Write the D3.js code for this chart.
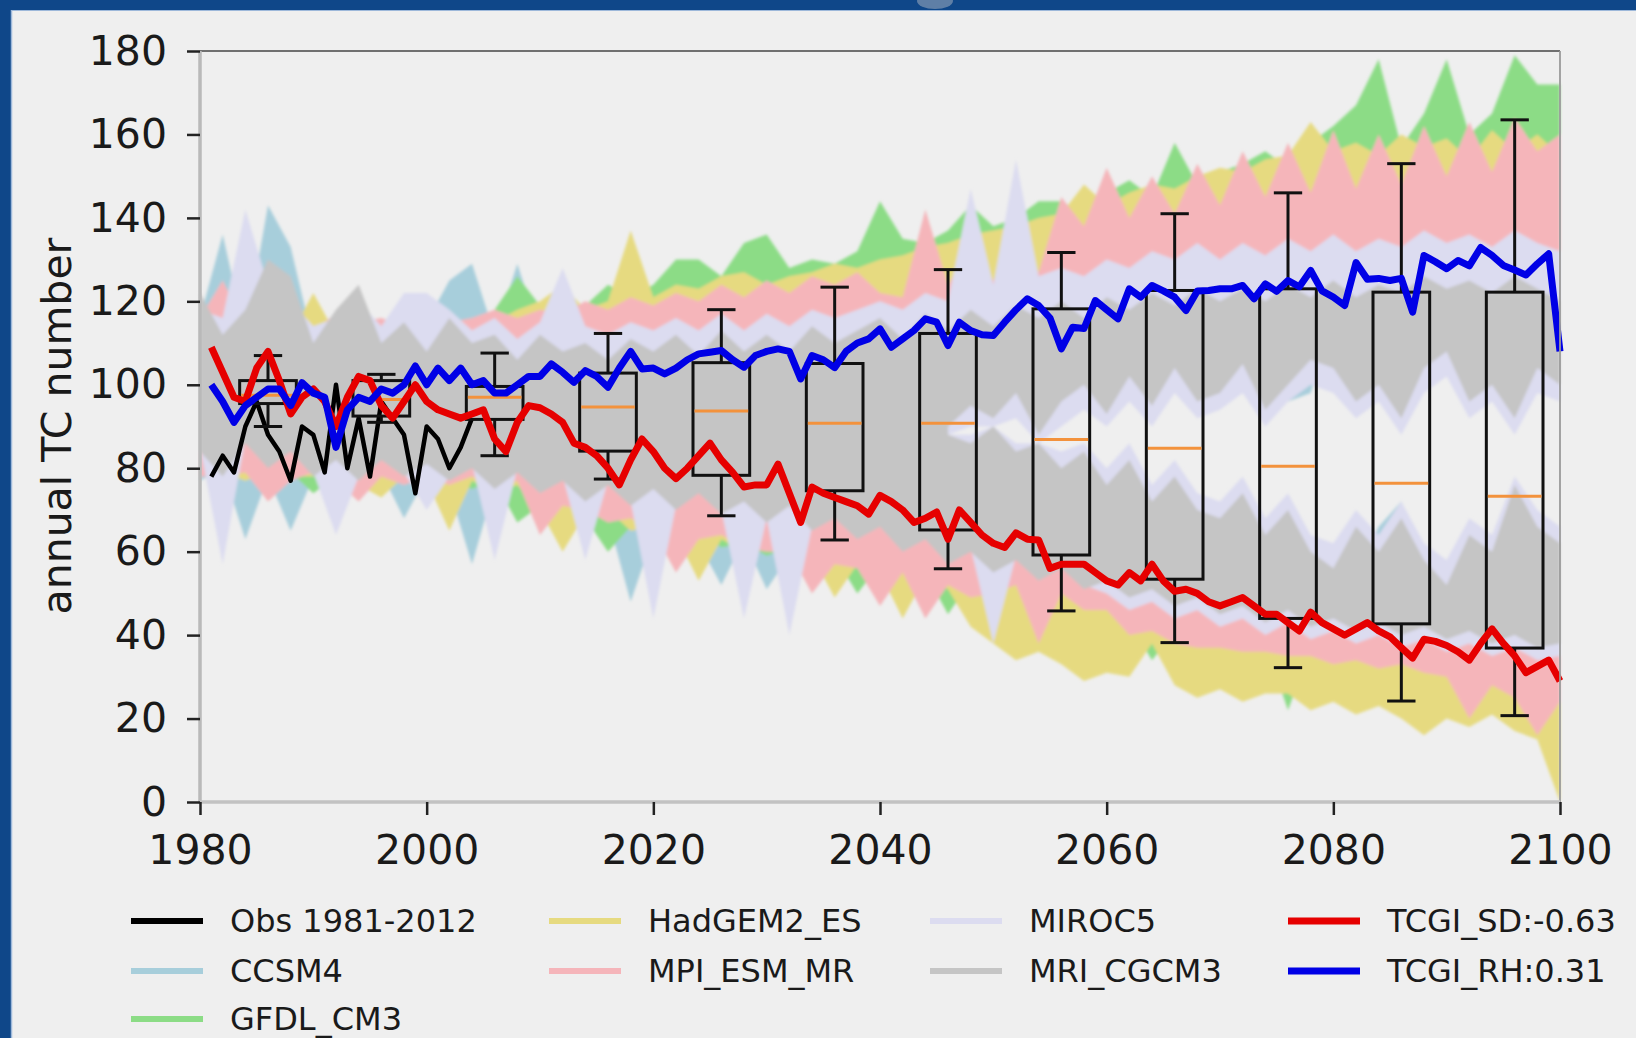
<!DOCTYPE html>
<html>
<head>
<meta charset="utf-8">
<script src="https://cdn.jsdelivr.net/npm/d3@7"></script>
<style>
  html, body { margin: 0; padding: 0; background: #efefef; }
  svg { display: block; }
  text { font-family: "DejaVu Sans", sans-serif; fill: #1a1a1a; }
</style>
</head>
<body>
<svg id="chart" width="1636" height="1038"></svg>
<script>
// ---- data ----
// model bands sampled every 2 years, 1980..2100
const bandYears = d3.range(1980, 2101, 2);
// split between RH band (above) and SD band (below), 2046..2100
const gapYears = d3.range(2046, 2101, 2);

const ccsm4Hi = [116,136,112,143,133,110,113,110,114,111, 115,125,129,112,129,112,114,112,114,113,
  115,114,116,115,117,116,118,117,119,118, 120,119,121,120,122,121,123,122,124,123,
  125,124,126,125,127,126,128,127,129,128, 130,129,131,130,132,131,133,132,134,133, 134];
const ccsm4Lo = [77,80,63,78,65,78,77,78,79,68, 78,75,57,76,74,73,69,71,68,48,
  64,66,62,52,63,51,59,60,56,58, 54,56,52,54,50,50,49,48,47,46,
  45,44,43,42,41,41,40,39,39,38, 37,37,36,36,35,35,34,34,33,33, 32];
const ccsm4GapTop = [106,110,108,110,106,110,110,108,112,110,114,110,112,114,110,96,98,116,112,114,112,116,116,114,114,112,116,112];
const ccsm4GapBottom = [70,72,70,70,68,68,66,64,64,76,62,60,58,60,54,58,52,50,54,66,72,50,46,52,50,56,52,50];

const gfdlHi = [112,110,113,111,114,116,112,114,113,115, 114,116,115,118,126,119,120,119,124,121,
  124,130,130,126,134,136,128,130,129,132, 144,135,134,137,143,138,140,144,144,141,
  146,149,145,158,148,151,153,156,152,158, 162,167,178,157,165,178,160,165,179,172, 172];
const gfdlLo = [79,77,78,77,79,74,78,79,77,78, 76,77,75,77,67,71,72,68,60,66,
  67,63,65,61,62,59,61,57,59,50, 57,53,55,45,53,49,48,47,46,45,
  44,43,34,41,40,40,39,38,22,37, 36,36,35,35,34,34,33,33,32,32, 31];

const hadgemHi = [110,112,111,113,112,122,112,113,112,113, 112,114,113,115,118,120,124,118,120,137,
  121,124,123,126,127,124,126,127,129,128, 130,131,133,134,136,137,138,140,141,148,
  143,146,148,147,150,152,151,154,155,163, 156,158,155,160,157,159,154,161,156,160, 155];
const hadgemLo = [78,79,77,79,78,78,79,76,73,78, 77,65,77,74,76,70,60,69,70,65,
  66,64,53,63,60,62,58,59,49,57, 55,44,54,51,42,38,34,36,33,29,
  31,30,38,28,25,27,24,26,26,22, 24,21,23,20,16,20,18,21,17,15, 0];

const mpiHi = [116,125,114,118,114,113,117,115,116,114, 117,115,116,118,116,118,117,120,118,121,
  119,122,120,124,121,125,122,126,124,127, 122,121,142,124,133,125,136,127,145,138,
  152,140,150,141,153,143,156,145,158,146, 161,147,160,148,162,150,163,151,164,156, 160];
const mpiLo = [78,78,79,72,77,79,77,72,78,76, 78,76,78,75,77,64,71,70,67,68,
  65,55,63,64,61,60,60,50,57,56, 47,55,44,52,49,50,52,38,50,46,
  46,40,41,38,37,37,36,36,35,35, 33,34,32,33,31,30,20,28,25,16, 24];

// GFDL, HadGEM2 and MPI split lies under the MRI layer
const sharedGapTop = [106,110,108,110,106,110,110,108,112,110,114,110,112,114,110,114,114,116,112,114,112,116,116,114,114,112,116,112];
const sharedGapBottom = [70,72,70,70,68,68,66,64,64,62,62,60,58,60,54,58,52,50,54,52,54,50,46,52,50,56,52,50];

const mirocHi = [118,116,142,124,120,114,116,120,114,122, 122,118,113,116,111,115,128,114,112,115,
  113,116,113,117,113,117,114,118,116,118, 120,118,122,120,147,124,154,126,128,126,
  130,128,132,130,134,130,134,131,135,132, 136,132,135,133,137,134,136,133,137,134, 132];
const mirocLo = [85,57,87,81,85,79,64,78,83,79, 70,78,81,58,80,75,78,58,77,72,
  44,71,75,70,44,68,40,66,69,64, 67,61,64,58,61,38,59,54,57,52,
  50,46,48,44,46,42,44,40,43,39, 41,38,40,37,39,36,38,35,37,34, 35];
const mirocGapTop = [88,90,88,92,86,90,94,90,96,90,98,92,94,98,90,96,100,98,92,96,88,98,102,92,96,88,98,96];
const mirocGapBottom = [88,88,90,86,86,84,86,80,86,76,82,74,72,78,68,74,64,62,70,64,72,62,58,68,64,78,70,66];

const mriHi = [122,112,118,130,126,110,118,124,110,115, 108,116,110,112,106,112,108,110,106,111,
  108,112,107,113,108,112,108,114,110,113, 116,111,117,113,118,114,119,116,120,116,
  121,118,122,119,123,120,123,120,124,121, 125,121,124,122,126,123,125,122,126,123, 120];
const mriLo = [84,78,86,80,84,78,82,77,82,78, 81,77,80,75,79,74,77,72,76,71,
  75,70,74,69,72,67,71,65,68,63, 66,60,63,57,60,55,58,53,56,51,
  53,49,51,47,49,45,47,43,46,42, 44,41,43,40,42,39,41,38,40,37, 38];
const mriGapTop = [90,95,92,98,88,96,100,93,102,95,104,96,98,105,94,100,106,104,96,100,92,104,108,96,100,92,104,100];
const mriGapBottom = [88,86,90,84,86,80,84,76,82,72,78,70,68,74,64,70,60,56,66,60,68,58,52,64,60,76,66,62];

// observed counts, 1981..2004
const obsStart = 1981;
const obsCounts = [78,83,79,90,96,88,84,77,90,88, 79,100,80,92,78,96,92,88,74,90, 87,80,85,92];

// multi-model TCGI estimates, 1981..2100
const tcgiStart = 1981;
const tcgiSD = [109,103,97,96,104,108,101,93,97,99, 96,90,97,102,101,95,92,96,100,96,
  94,93,92,93,94,87,84,91,95,94.5, 93,91,86,85,83,80,76,82,87,84,
  80,77.5,80,83,86,82,79,75.5,76,76, 81,74,67,75.5,74,73,72,71,69,73.5,
  72,70,67,68,69.5,63,70,67,64,62, 61,64.5,63,62.8,56,57,57,57,55,53,
  52,55,53,57,53,50.5,51,50,48,47, 48,49,47,45,45,43,41,45.5,43,41.5,
  40,41.5,43,41,39.6,37,34.5,39,38.5,37.5, 36,34,38,41.5,38,35,31,32.5,34,29];
const tcgiRH = [100,96,91,95,97,99,99,95,100.5,98, 97,85,94,97,96,99,98,100,104.5,100,
  104,101,104,100,101,98,98,100,102,102, 105,103,100.6,103.4,102,99.4,104,108,103.8,104,
  102.6,104,106,107.4,107.8,108.2,106,104.2,107,108, 108.6,108,101.4,107,106,104.1,108,110,111,113.4,
  109,111,113,115.8,115,109.4,115,113,112,111.8, 115,118,120.6,119,116,108.6,113.8,113.5,120.2,118,
  115.8,123,121,123.8,122.5,121,117.8,122.5,122.6,123, 123,123.8,120.6,124.2,122.4,125,123.5,127.4,122.5,121,
  119,129.3,125.3,125.5,125,125.5,117.4,131,129.5,127.8, 129.8,128.5,132.9,131,128.6,127.5,126.3,129,131.4,108];

// decadal box plots
const boxCenters = [1986,1996,2006,2016,2026,2036,2046,2056,2066,2076,2086,2096];
const boxWhiskerLo = [90,91,83,77.4,68.6,62.8,55.9,45.8,38.2,32.2,24.2,20.7];
const boxQ1 = [95.5,92.5,91.7,84.1,78.3,74.6,65.2,59.2,53.4,44,42.7,36.9];
const boxMedian = [97.5,96.5,97,94.7,93.7,90.8,90.8,86.9,84.8,80.5,76.4,73.3];
const boxQ3 = [101,101,99.6,102.8,105.3,105.1,112.3,118.2,122.6,123,122.2,122.2];
const boxWhiskerHi = [107,102.5,107.6,112.3,118,123.4,127.6,131.7,141,146,153,163.5];

const yTicks = [0,20,40,60,80,100,120,140,160,180];
const xTicks = [1980,2000,2020,2040,2060,2080,2100];

// ---- drawing ----
const W = 1636, H = 1038;
const x = d3.scaleLinear().domain([1980, 2100]).range([200, 1560]);
const y = d3.scaleLinear().domain([0, 180]).range([802, 51]);

const svg = d3.select("#chart");
const defs = svg.append("defs");
defs.append("filter").attr("id", "soft")
  .attr("filterUnits", "userSpaceOnUse")
  .attr("x", 0).attr("y", 0).attr("width", W).attr("height", H)
  .append("feGaussianBlur").attr("stdDeviation", 1.5);

svg.append("rect").attr("width", W).attr("height", H).attr("fill", "#efefef");

// blue frame top and left
svg.append("rect").attr("x", 0).attr("y", 0).attr("width", W).attr("height", 10).attr("fill", "#0f4789");
svg.append("rect").attr("x", 0).attr("y", 0).attr("width", 11).attr("height", H).attr("fill", "#0f4789");
svg.append("line").attr("x1", 11.5).attr("x2", 11.5).attr("y1", 10).attr("y2", H)
  .attr("stroke", "#9db8da").attr("stroke-width", 1.5);
svg.append("line").attr("x1", 11).attr("x2", W).attr("y1", 10.5).attr("y2", 10.5)
  .attr("stroke", "#9db8da").attr("stroke-width", 1);
svg.append("ellipse").attr("cx", 935).attr("cy", 1).attr("rx", 18).attr("ry", 8).attr("fill", "#5f7fa6");

const models = [
  { name: "CCSM4", color: "#a7cedb", hi: ccsm4Hi, lo: ccsm4Lo, gapTop: ccsm4GapTop, gapBottom: ccsm4GapBottom },
  { name: "GFDL_CM3", color: "#8cdc86", hi: gfdlHi, lo: gfdlLo, gapTop: sharedGapTop, gapBottom: sharedGapBottom },
  { name: "HadGEM2_ES", color: "#e6da80", hi: hadgemHi, lo: hadgemLo, gapTop: sharedGapTop, gapBottom: sharedGapBottom },
  { name: "MPI_ESM_MR", color: "#f5b5ba", hi: mpiHi, lo: mpiLo, gapTop: sharedGapTop, gapBottom: sharedGapBottom },
  { name: "MIROC5", color: "#dcdcf0", hi: mirocHi, lo: mirocLo, gapTop: mirocGapTop, gapBottom: mirocGapBottom },
  { name: "MRI_CGCM3", color: "#c5c5c5", hi: mriHi, lo: mriLo, gapTop: mriGapTop, gapBottom: mriGapBottom }
];

const bandArea = d3.area()
  .x(d => x(d.year))
  .y0(d => y(d.lo))
  .y1(d => y(d.hi));

const gBands = svg.append("g").attr("filter", "url(#soft)");
models.forEach(m => {
  const outer = bandYears.map((yr, i) => ({ year: yr, lo: m.lo[i], hi: m.hi[i] }));
  const hole = gapYears.map((yr, i) => ({
    year: yr, lo: m.gapBottom[i], hi: Math.max(m.gapTop[i], m.gapBottom[i])
  }));
  gBands.append("path")
    .attr("d", bandArea(outer) + bandArea(hole))
    .attr("fill", m.color)
    .attr("fill-rule", "evenodd");
});

const line = d3.line().x(d => x(d[0])).y(d => y(d[1]));

// observations
svg.append("path")
  .attr("d", line(obsCounts.map((v, i) => [obsStart + i, v])))
  .attr("fill", "none").attr("stroke", "#000").attr("stroke-width", 4.5)
  .attr("stroke-linejoin", "round");

// box plots
const gBox = svg.append("g");
boxCenters.forEach((c, i) => {
  const x0 = x(c - 2.5), x1 = x(c + 2.5), cx = x(c);
  const capL = x(c - 1.25), capR = x(c + 1.25);
  const st = sel => sel.attr("stroke", "#111").attr("stroke-width", 3).attr("fill", "none");
  gBox.append("rect").attr("x", x0).attr("y", y(boxQ3[i]))
    .attr("width", x1 - x0).attr("height", y(boxQ1[i]) - y(boxQ3[i])).call(st);
  gBox.append("line").attr("x1", cx).attr("x2", cx).attr("y1", y(boxQ3[i])).attr("y2", y(boxWhiskerHi[i])).call(st);
  gBox.append("line").attr("x1", cx).attr("x2", cx).attr("y1", y(boxQ1[i])).attr("y2", y(boxWhiskerLo[i])).call(st);
  gBox.append("line").attr("x1", capL).attr("x2", capR).attr("y1", y(boxWhiskerHi[i])).attr("y2", y(boxWhiskerHi[i])).call(st);
  gBox.append("line").attr("x1", capL).attr("x2", capR).attr("y1", y(boxWhiskerLo[i])).attr("y2", y(boxWhiskerLo[i])).call(st);
  gBox.append("line").attr("x1", x0 + 1.5).attr("x2", x1 - 1.5).attr("y1", y(boxMedian[i])).attr("y2", y(boxMedian[i]))
    .attr("stroke", "#f3923c").attr("stroke-width", 3);
});

// TCGI lines
svg.append("path")
  .attr("d", line(tcgiSD.map((v, i) => [tcgiStart + i, v])))
  .attr("fill", "none").attr("stroke", "#e60000").attr("stroke-width", 7)
  .attr("stroke-linejoin", "round");
svg.append("path")
  .attr("d", line(tcgiRH.map((v, i) => [tcgiStart + i, v])))
  .attr("fill", "none").attr("stroke", "#0000e6").attr("stroke-width", 7)
  .attr("stroke-linejoin", "round");

// spines
svg.append("line").attr("x1", 200).attr("x2", 1560).attr("y1", 51).attr("y2", 51)
  .attr("stroke", "#707070").attr("stroke-width", 1.8);
svg.append("line").attr("x1", 1560).attr("x2", 1560).attr("y1", 51).attr("y2", 802)
  .attr("stroke", "#9a9a9a").attr("stroke-width", 1.8);
svg.append("line").attr("x1", 200).attr("x2", 200).attr("y1", 51).attr("y2", 803)
  .attr("stroke", "#b9b9b9").attr("stroke-width", 3.5);
svg.append("line").attr("x1", 198).attr("x2", 1560).attr("y1", 802).attr("y2", 802)
  .attr("stroke", "#c2c2c2").attr("stroke-width", 3.5);

// axes
const gy = svg.append("g").attr("transform", "translate(200,0)")
  .call(d3.axisLeft(y).tickValues(yTicks).tickSize(13).tickPadding(20));
gy.select(".domain").remove();
gy.selectAll(".tick line").attr("stroke", "#222").attr("stroke-width", 2.5);
gy.selectAll(".tick text").attr("font-size", 41).attr("fill", "#1a1a1a");

const gx = svg.append("g").attr("transform", "translate(0,802)")
  .call(d3.axisBottom(x).tickValues(xTicks).tickFormat(d3.format("d")).tickSize(13).tickPadding(20));
gx.select(".domain").remove();
gx.selectAll(".tick line").attr("stroke", "#222").attr("stroke-width", 2.5);
gx.selectAll(".tick text").attr("font-size", 41).attr("fill", "#1a1a1a");

svg.append("text")
  .attr("transform", "translate(71,426) rotate(-90)")
  .attr("text-anchor", "middle")
  .attr("font-size", 41)
  .text("annual TC number");

// legend
const legendItems = [
  { label: "Obs 1981-2012", color: "#000000", col: 0, row: 0, w: 6 },
  { label: "CCSM4", color: "#a7cedb", col: 0, row: 1, w: 6 },
  { label: "GFDL_CM3", color: "#8cdc86", col: 0, row: 2, w: 6 },
  { label: "HadGEM2_ES", color: "#e6da80", col: 1, row: 0, w: 6 },
  { label: "MPI_ESM_MR", color: "#f5b5ba", col: 1, row: 1, w: 6 },
  { label: "MIROC5", color: "#dcdcf0", col: 2, row: 0, w: 6 },
  { label: "MRI_CGCM3", color: "#c5c5c5", col: 2, row: 1, w: 6 },
  { label: "TCGI_SD:-0.63", color: "#e60000", col: 3, row: 0, w: 7 },
  { label: "TCGI_RH:0.31", color: "#0000e6", col: 3, row: 1, w: 7 }
];
const legendColX = [131, 549, 930, 1288];
const legendRowY = [921, 971, 1019];
const gLeg = svg.append("g");
legendItems.forEach(it => {
  const lx = legendColX[it.col], ly = legendRowY[it.row];
  gLeg.append("line").attr("x1", lx).attr("x2", lx + 72).attr("y1", ly).attr("y2", ly)
    .attr("stroke", it.color).attr("stroke-width", it.w);
  gLeg.append("text").attr("x", lx + 99).attr("y", ly).attr("dy", "0.35em")
    .attr("font-size", 32).text(it.label);
});
</script>
</body>
</html>
